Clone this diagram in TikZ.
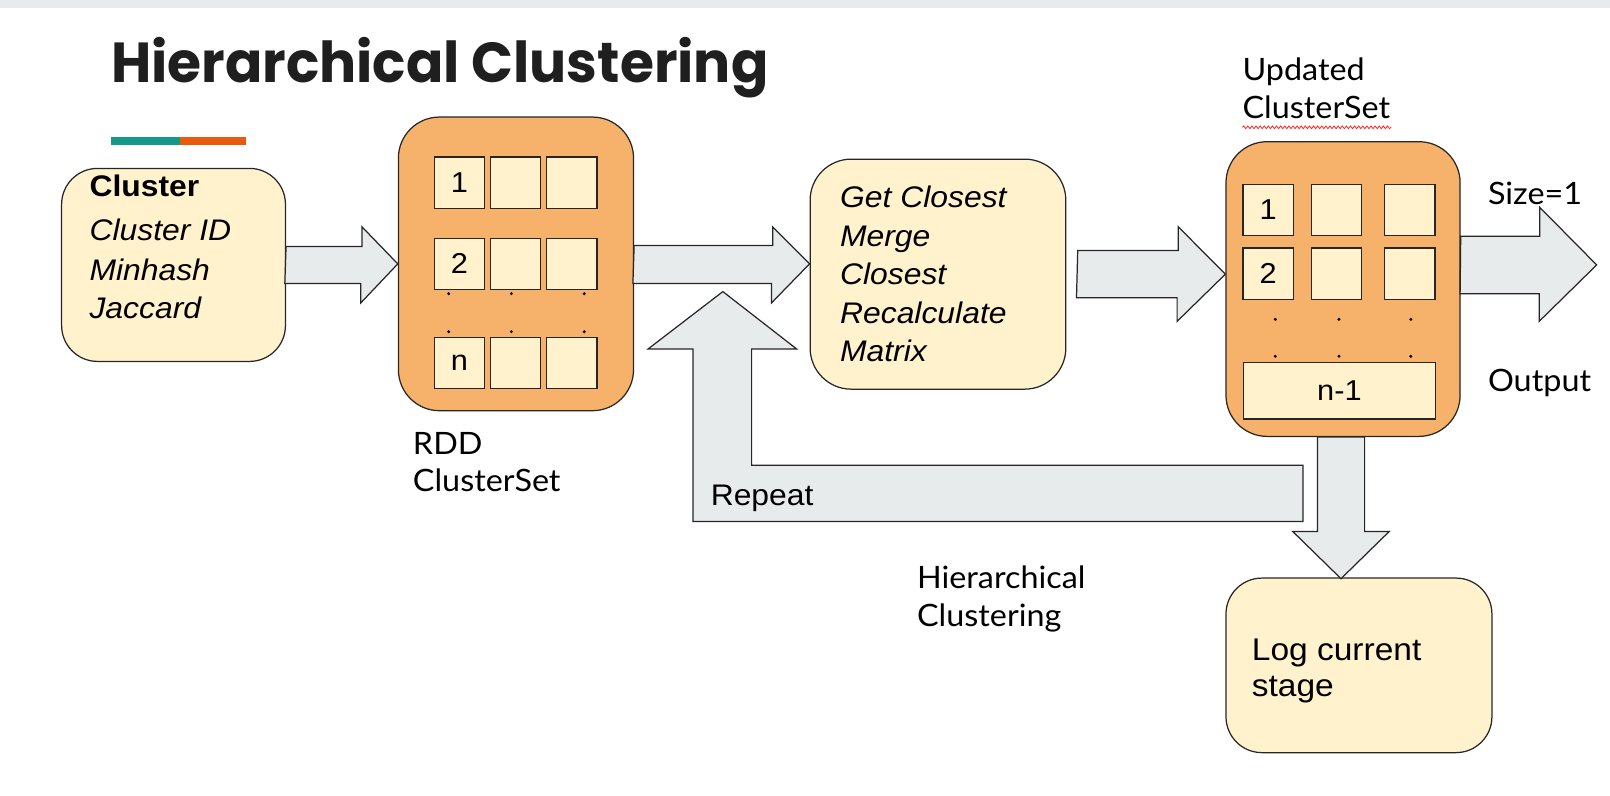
\documentclass[tikz,border=0pt]{standalone}
\usepackage{fontspec}
\usepackage{graphicx}
\setmainfont{Liberation Sans}[FakeStretch=1.07]
\newfontfamily\latofont{Lato}[FakeStretch=1.05]
\newfontfamily\titlefont{Poppins}
\usepackage{tikz}
\usetikzlibrary{decorations.pathmorphing}
\definecolor{boxorange}{HTML}{F6B26B}
\definecolor{boxyellow}{HTML}{FFF2CC}
\definecolor{flowgrey}{HTML}{E8EBEC}
\definecolor{edgegrey}{HTML}{262626}
\definecolor{barteal}{HTML}{17998A}
\definecolor{barorange}{HTML}{E85A0C}
\tikzset{box node/.style={draw=edgegrey,line width=1.2pt,rounded corners=40pt,inner sep=0pt},
            cell node/.style={draw=edgegrey,line width=1.2pt,fill=boxyellow,inner sep=0pt,
                minimum width=49pt,minimum height=50pt,font=\fontsize{28}{30}\selectfont},
            flow arrow/.style={draw=edgegrey,line width=1.2pt,fill=flowgrey,line join=miter},
            text node/.style={anchor=base west,inner sep=0pt},
            }

\begin{document}
\begin{tikzpicture}[x=1pt,y=-1pt]
					\useasboundingbox (0,0) rectangle (1568,775);
					\fill[flowgrey] (0,0) rectangle (1568,8);
					% title and accent bar
					\node[text node,text=black!88] (title) at (108,80) {\resizebox{640pt}{44pt}{\titlefont\bfseries Hierarchical Clustering}};
					\fill[barteal] (108,133) rectangle (175,141);
					\fill[barorange] (175,133) rectangle (240,141);
					
					% boxes
					\node[box node,fill=boxyellow,rounded corners=35pt,minimum width=218pt,minimum height=188pt] (clus) at (169,258) {};
					\node[box node,fill=boxorange,minimum width=229pt,minimum height=286pt] (rdd) at (502.5,257) {};
					\node[box node,fill=boxyellow,minimum width=249pt,minimum height=224pt] (getc) at (913.5,267) {};
					\node[box node,fill=boxorange,minimum width=228pt,minimum height=287pt] (upd) at (1308,281.5) {};
					\node[box node,fill=boxyellow,rounded corners=35pt,minimum width=259pt,minimum height=170pt] (logb) at (1323.5,648) {};
					
					% cluster fields
					\node[text node,font=\fontsize{29}{30}\selectfont\bfseries] (clus-t) at (87,191) {Cluster};
					\node[text node,font=\fontsize{29}{30}\selectfont\itshape] (clus-id) at (87,234) {Cluster ID};
					\node[text node,font=\fontsize{29}{30}\selectfont\itshape] (clus-mh) at (87,273) {Minhash};
					\node[text node,font=\fontsize{29}{30}\selectfont\itshape] (clus-jc) at (87,310) {Jaccard};
					
					% rdd cells
					\foreach \r/\y in {1/178,2/257,n/353.5}{
						\node[cell node] (rdd-\r-1) at (447.5,\y) {\r};
						\node[cell node] (rdd-\r-2) at (502,\y) {};
						\node[cell node] (rdd-\r-3) at (557,\y) {};
					}
					\foreach \x in {437,498,569}
						\foreach \y in {286,323}
							\fill (\x,\y) circle (1.6pt);
					
					% updated cells
					\foreach \r/\y in {1/204.5,2/266.5}{
						\node[cell node] (upd-\r-1) at (1235,\y) {\r};
						\node[cell node] (upd-\r-2) at (1301.5,\y) {};
						\node[cell node] (upd-\r-3) at (1373,\y) {};
					}
					\foreach \x in {1242,1304,1374}
						\foreach \y in {311,347}
							\fill (\x,\y) circle (1.6pt);
					\node[cell node,minimum width=187pt,minimum height=55pt] (upd-last) at (1304.5,380.5) {n-1};
					
					% merge steps
					\node[text node,font=\fontsize{29}{30}\selectfont\itshape] (getc-1) at (818,202) {Get Closest};
					\node[text node,font=\fontsize{29}{30}\selectfont\itshape] (getc-2) at (818,240) {Merge};
					\node[text node,font=\fontsize{29}{30}\selectfont\itshape] (getc-3) at (818,277) {Closest};
					\node[text node,font=\fontsize{29}{30}\selectfont\itshape] (getc-4) at (818,315) {Recalculate};
					\node[text node,font=\fontsize{29}{30}\selectfont\itshape] (getc-5) at (818,352) {Matrix};
					
					\node[text node,font=\fontsize{30.5}{35}\selectfont] (log-1) at (1219,643) {Log current};
					\node[text node,font=\fontsize{30.5}{35}\selectfont] (log-2) at (1219,678) {stage};
					
					% block arrows
					\draw[flow arrow] (clus.east) ++(0,-18) -- ++(74,0) -- ++(0,-19) -- (rdd.west) -- ++(-36,38) -- ++(0,-19) -- ++(-74,0) -- cycle;
					\draw[flow arrow] (rdd.east) ++(0,-18) -- ++(135,0) -- ++(0,-18) -- (getc.west |- rdd.east) -- ++(-37,38) -- ++(0,-19) -- ++(-135,0) -- cycle;
					\draw[flow arrow] (getc.east) ++(11,-23) -- ++(98,0) -- ++(0,-23) -- (upd.west |- getc.east) -- ++(-47,46) -- ++(0,-23) -- ++(-98,0) -- cycle;
					\coordinate (out-tip) at (1555,258);
					\draw[flow arrow] (upd.east) ++(0,-51.5) -- ++(77,0) -- ++(0,-28) -- (out-tip) -- ++(-56,55) -- ++(0,-27) -- ++(-77,0) -- cycle;
					\draw[flow arrow] (upd.south) ++(-25,0) -- ++(0,92) -- ++(-24,0) -- ++(47,46) -- ++(47,-46) -- ++(-24,0) -- ++(0,-92) -- cycle;
					\coordinate (rep-tip) at (704,284);
					\draw[flow arrow] (rep-tip) -- ++(72,56) -- ++(-44,0) -- ++(0,113) -- ++(537,0) -- ++(0,55) -- ++(-594,0) -- ++(0,-168) -- ++(-44,0) -- cycle;
					\node[text node,font=\fontsize{29}{30}\selectfont] (rep-lbl) at (692,492) {Repeat};
					
					% side labels
					\node[text node,font=\latofont\fontsize{30}{37}\selectfont] (rdd-l1) at (402,443) {RDD};
					\node[text node,font=\latofont\fontsize{30}{37}\selectfont] (rdd-l2) at (402,479) {ClusterSet};
					\node[text node,font=\latofont\fontsize{30}{37}\selectfont] (upd-l1) at (1210,78) {Updated};
					\node[text node,font=\latofont\fontsize{30}{37}\selectfont] (upd-l2) at (1210,115) {ClusterSet};
					\coordinate (wave-a) at (1210,124);
					\coordinate (wave-b) at (1355,124);
					\draw[red!85,line width=0.8pt,decorate,decoration={snake,amplitude=1.3pt,segment length=4pt}] (wave-a) -- (wave-b);
					\node[text node,font=\latofont\fontsize{30}{37}\selectfont] (size-l) at (1449,199) {Size=1};
					\node[text node,font=\latofont\fontsize{30}{37}\selectfont] (out-l) at (1449,381) {Output};
					\node[text node,font=\latofont\fontsize{30}{37}\selectfont] (hc-l1) at (893,573) {Hierarchical};
					\node[text node,font=\latofont\fontsize{30}{37}\selectfont] (hc-l2) at (893,610) {Clustering};
				\end{tikzpicture}
\end{document}
